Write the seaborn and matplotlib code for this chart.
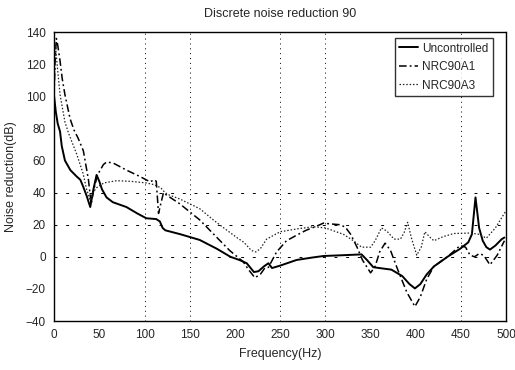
import numpy as np
import pandas as pd
import matplotlib
matplotlib.use("Agg")
import matplotlib.pyplot as plt
import seaborn as sns

# ***** data ***** #
unc_f = [0, 2, 4, 6.6, 8.5, 12, 18, 25, 29, 32, 36, 40, 43.5, 47, 50, 53, 58, 65, 80, 92,
         102, 113, 117, 120, 123, 140, 161, 180, 195, 205, 213, 221, 226, 232, 237, 241,
         250, 268, 285, 298, 320, 340, 346, 353, 373, 385, 393, 399, 405, 412, 420, 435,
         449, 458, 462, 466, 470, 474, 478, 482, 488, 495, 498]
unc_v = [100, 90, 83, 78, 69, 60, 54, 50, 48, 44, 38, 31, 42, 51, 47, 42, 37, 34, 31, 27,
         24, 23.5, 22, 18, 16.5, 14, 10.5, 5, 0, -2, -4, -9.5, -9, -6, -4, -7,
         -5.5, -2, -0.5, 0.5, 1, 1.5, -2, -6.5, -8, -12, -17, -19.7, -17, -11, -6, 0,
         5, 9, 14, 37, 18, 10, 6, 4.5, 7, 11, 12]

a1_f = [0, 1, 2.5, 4, 6.6, 9, 12, 17.7, 22, 26.5, 32.4, 38, 41, 44, 48, 54.6, 58, 65, 80, 95,
        106, 111, 113, 115.5, 118, 121, 123, 139, 161, 194, 209, 215, 222, 228, 233, 237,
        246, 257, 270, 279, 290, 298, 305, 316, 322, 328, 335, 341, 350, 355, 360, 366,
        372, 380, 390, 399, 405, 412, 420, 435, 449, 455, 460, 465, 470, 475, 482, 490, 498]
a1_v = [100, 120, 136, 132, 122, 111, 101, 86, 79, 74, 66, 48, 33, 42, 51, 57.5, 59, 58.5, 54, 50,
        46.7, 48, 47, 27, 33, 40, 39, 33, 23, 4, -3, -8, -13, -11, -7, -6.6,
        3, 10, 14, 16.6, 19, 21, 20.5, 20, 18.5, 14, 6, -2, -10, -6, 3, 8.5,
        4, -8, -22, -31, -25, -14, -6, 0, 7, 6, 1, 0, 2, 1, -5, 1, 10]

a3_f = [0, 1.5, 3, 6.6, 12, 16, 25, 32, 36, 40, 43, 47, 55, 69, 85, 102, 110, 114, 118,
        121, 125, 139, 161, 176, 190, 202, 210, 218, 223, 228, 235, 250, 270, 287, 300,
        320, 331, 340, 350, 355, 362, 368, 376, 383, 387, 391, 395, 401, 406, 410, 416,
        420, 430, 442, 460, 470, 478, 488, 499]
a3_v = [100, 132, 122, 101, 84, 77, 64, 52, 42, 35, 40, 43, 46, 47.4, 47, 46, 45, 44, 43,
        41, 39, 36, 30, 23, 17, 12, 9, 4, 3, 5, 11, 15.6, 17.5, 18.7, 18,
        14, 10, 6, 6, 10, 18, 16, 11, 11, 15, 21.5, 12, 1, 6, 15.6, 12,
        10, 12.5, 14.5, 14.8, 14, 11.6, 18, 28]

x_ticks = [0, 50, 100, 150, 200, 250, 300, 350, 400, 450, 500]
y_ticks = [-40, -20, 0, 20, 40, 60, 80, 100, 120, 140]
grid_x = [100, 150, 250, 300, 450]
grid_y = [0, 20, 40]

sns.set_style("white")
plt.rcParams["font.family"] = ["Liberation Sans", "DejaVu Sans"]

fig = plt.figure(figsize=(5.15, 3.7), dpi=100)
ax = fig.add_axes([0.105, 0.1324, 0.878, 0.781])

for g in grid_x:
    ax.axvline(g, color="black", lw=0.7, ls=(0, (1, 4)), zorder=0)
for g in grid_y:
    ax.axhline(g, color="black", lw=0.7, ls=(0, (3, 9)), zorder=0)

sns.lineplot(x=unc_f, y=unc_v, ax=ax, color="black", lw=1.4, ls="-",
             label="Uncontrolled", sort=False)
sns.lineplot(x=a1_f, y=a1_v, ax=ax, color="black", lw=1.1, ls=(0, (5, 2, 1.2, 2)),
             label="NRC90A1", sort=False)
sns.lineplot(x=a3_f, y=a3_v, ax=ax, color="#222222", lw=0.9, ls=(0, (1.2, 1.5)),
             label="NRC90A3", sort=False)

ax.set_xlim(0, 500)
ax.set_ylim(-40, 140)
ax.set_xticks(x_ticks)
ax.set_yticks(y_ticks)
ax.tick_params(labelsize=8.5, length=0, pad=6)

for s in ["left", "bottom"]:
    ax.spines[s].set_color("black")
    ax.spines[s].set_linewidth(1.0)
for s in ["top", "right"]:
    ax.spines[s].set_color("black")
    ax.spines[s].set_linewidth(1.0)
    ax.spines[s].set_linestyle((0, (1, 1)))

ax.set_title("Discrete noise reduction 90", fontsize=9, pad=11)
ax.set_xlabel("Frequency(Hz)", fontsize=9, labelpad=5)
ax.set_ylabel("Noise reduction(dB)", fontsize=9, labelpad=6)

leg = ax.legend(loc="upper right", bbox_to_anchor=(0.97, 0.98), borderaxespad=0,
                fontsize=8.5, frameon=True, fancybox=False, handlelength=1.6,
                handletextpad=0.3, borderpad=0.4, labelspacing=0.55)
leg.get_frame().set_edgecolor("black")
leg.get_frame().set_linewidth(1.0)

fig.savefig("out.png", dpi=100)
